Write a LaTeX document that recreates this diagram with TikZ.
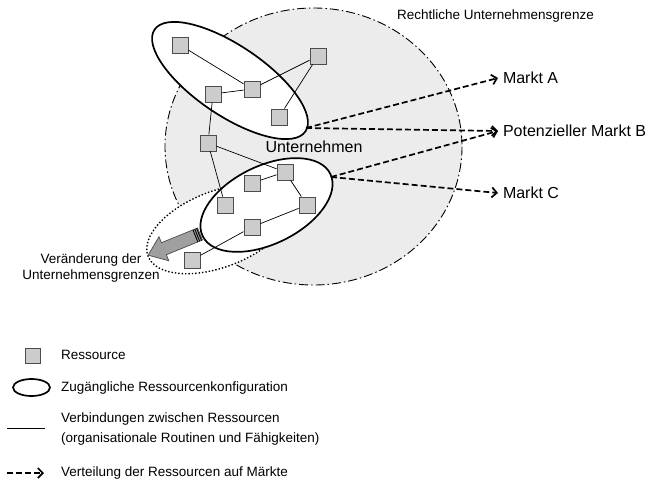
\documentclass[tikz,border=0pt]{standalone}
\usepackage{fontspec}
\setmainfont{Liberation Sans}
\usetikzlibrary{arrows.meta}

\newcommand\smalltext{\fontsize{13.5}{16}\selectfont}
\newcommand\bigtext{\fontsize{16}{19}\selectfont}

\tikzset{
  res/.style={draw=black!70, fill=gray!40, line width=0.9pt, minimum size=16pt, inner sep=0pt},
  link/.style={line width=0.7pt},
  config/.style={draw, line width=1.7pt, fill=white},
  alloc/.style={line width=1.7pt, dash pattern=on 6pt off 3pt, -{Straight Barb[length=5pt,width=10pt]}},
  lbl/.style={inner sep=0pt, anchor=west, font=\smalltext},
  mkt/.style={inner sep=0pt, outer sep=5pt, anchor=west, font=\bigtext}
}

\begin{document}
\begin{tikzpicture}[x=1pt, y=-1pt]
	\useasboundingbox (0,0) rectangle (661,480);

	% legal boundary of the firm
	\draw[fill=gray!15, line width=0.9pt, dash pattern=on 9pt off 3pt on 1.5pt off 3pt] (313.5,146.5) ellipse [x radius=148.5, y radius=138.5];
	\node[lbl] (legal) at (397,16) {Rechtliche Unternehmensgrenze};

	% moved boundary, then the two configurations
	\draw[dotted, line width=1.4pt, fill=white, rotate around={21:(219,229)}] (219,229) ellipse [x radius=76, y radius=38];
	\draw[config, rotate around={-34:(230,80.5)}] (230,80.5) ellipse [x radius=91, y radius=35];
	\draw[config, rotate around={26:(266.5,205)}] (266.5,205) ellipse [x radius=71, y radius=39];

	\node[font=\bigtext, inner sep=0pt] (firm) at (314,147) {Unternehmen};

	% resources
	\node[res] (r1) at (180,45) {};  \node[res] (r2) at (318,56) {};
	\node[res] (r3) at (213,94) {};  \node[res] (r4) at (252,89) {};  \node[res] (r5) at (279,117) {};
	\node[res] (r6) at (208,143) {};
	\node[res] (r7) at (285,172) {}; \node[res] (r8) at (252,183) {};
	\node[res] (r9) at (225,205) {}; \node[res] (r10) at (307,205) {};
	\node[res] (r11) at (252,227) {}; \node[res] (r12) at (192,260) {};

	\draw[link] (r1) -- (r4);  \draw[link] (r3) -- (r4);  \draw[link] (r4) -- (r2);  \draw[link] (r5) -- (r2);
	\draw[link] (r3) -- (r6);  \draw[link] (r6) -- (r7);  \draw[link] (r6) -- (r9);
	\draw[link] (r8) -- (r7);  \draw[link] (r7) -- (r10); \draw[link] (r11) -- (r10); \draw[link] (r11) -- (r12);

	% block arrow pointing out of the firm
	\begin{scope}[shift={(200,234)}, rotate=202.2]
		\draw[fill=gray!75, draw=black!70, line width=0.7pt] (0,-6.5) -- (39,-6.5) -- (39,-13) -- (56,0) -- (39,13) -- (39,6.5) -- (0,6.5) -- cycle;
		\draw[line width=0.9pt] (1,-6.5) -- (1,6.5) (3,-6.5) -- (3,6.5) (5,-6.5) -- (5,6.5);
	\end{scope}
	\node[font=\smalltext, align=center, inner sep=0pt] (shift) at (91,268) {Veränderung der\\Unternehmensgrenzen};

	% markets
	\coordinate (upTip) at (306,128);
	\coordinate (lowTip) at (331,177);
	\node[mkt] (mA) at (498,78) {Markt A};
	\node[mkt] (mB) at (498,131) {Potenzieller Markt B};
	\node[mkt] (mC) at (498,193) {Markt C};
	\draw[alloc] (upTip) -- (mA.west);
	\draw[alloc] (upTip) -- (mB.west);
	\draw[alloc] (lowTip) -- (mB.west);
	\draw[alloc] (lowTip) -- (mC.west);

	% legend
	\node[res, minimum size=15pt] (legRes) at (32.5,355.5) {};
	\node[lbl] (legResTxt) at (61,355) {Ressource};
	\draw[line width=1.7pt] (31.5,387.5) ellipse [x radius=18.5, y radius=8.5];
	\node[lbl] (legConfTxt) at (61,388) {Zugängliche Ressourcenkonfiguration};
	\coordinate (legLinkA) at (7,428); \coordinate (legLinkB) at (45,428);
	\draw[link] (legLinkA) -- (legLinkB);
	\node[lbl, align=left] (legLinkTxt) at (61,429) {Verbindungen zwischen Ressourcen\\[4pt](organisationale Routinen und Fähigkeiten)};
	\coordinate (legAllocA) at (7,473); \coordinate (legAllocB) at (44,473);
	\draw[alloc] (legAllocA) -- (legAllocB);
	\node[lbl] (legAllocTxt) at (61,473) {Verteilung der Ressourcen auf Märkte};
\end{tikzpicture}
\end{document}
